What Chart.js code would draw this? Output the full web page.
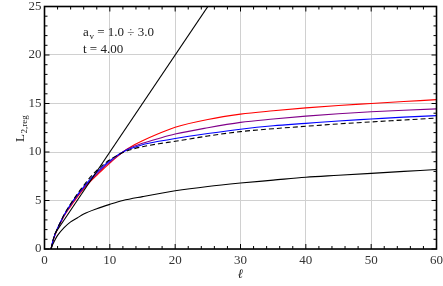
<!DOCTYPE html>
<html>
<head>
<meta charset="utf-8">
<script src="https://cdn.jsdelivr.net/npm/chart.js@4.4.1/dist/chart.umd.min.js"></script>
<style>
  body { margin: 0; background: #fff; }
  canvas { display: block; }
</style>
</head>
<body>
<canvas id="chart" width="443" height="286"></canvas>
<script>
// sample positions along the horizontal axis (ℓ)
const ell = [1, 1.3, 1.6, 2, 2.5, 3, 4, 5, 6, 7, 8, 9, 10, 11, 12, 13, 15, 17.5, 20, 25, 30, 35, 40, 45, 50, 55, 60];

// a_v = 1.0, 2.0, 3.0 curves
const blueVals   = [0, 0.9, 1.5, 2.15, 2.85, 3.5, 4.6, 5.55, 6.4, 7.2, 7.9, 8.55, 9.1, 9.6, 10.0, 10.3, 10.75, 11.1, 11.4, 11.9, 12.35, 12.7, 12.95, 13.2, 13.4, 13.6, 13.75];
const purpleVals = [0, 0.85, 1.45, 2.1, 2.8, 3.45, 4.5, 5.45, 6.3, 7.05, 7.75, 8.4, 8.95, 9.5, 10.0, 10.4, 10.9, 11.4, 11.85, 12.5, 13.05, 13.4, 13.7, 13.95, 14.15, 14.3, 14.45];
const redVals    = [0, 0.8, 1.4, 2.05, 2.75, 3.4, 4.4, 5.35, 6.2, 6.95, 7.6, 8.25, 8.85, 9.45, 10.0, 10.45, 11.15, 11.9, 12.55, 13.35, 13.9, 14.25, 14.55, 14.8, 15.0, 15.2, 15.4];
const dashedVals = [0, 0.9, 1.5, 2.15, 2.85, 3.55, 4.65, 5.65, 6.55, 7.4, 8.1, 8.7, 9.2, 9.6, 9.95, 10.2, 10.55, 10.85, 11.1, 11.65, 12.1, 12.4, 12.65, 12.9, 13.1, 13.3, 13.5];

// lower black curve
const lowEll  = [1, 1.25, 1.5, 2, 3, 4, 5, 6, 8, 10, 12, 15, 20, 25, 30, 35, 40, 45, 50, 55, 60];
const lowVals = [0, 0.45, 0.8, 1.4, 2.2, 2.8, 3.2, 3.6, 4.15, 4.6, 5.0, 5.4, 6.0, 6.45, 6.8, 7.1, 7.4, 7.6, 7.8, 8.0, 8.2];

// straight black line
const lineEll  = [1.5, 25.5];
const lineVals = [1.5, 25.5];

const xTicks = [0, 10, 20, 30, 40, 50, 60];
const yTicks = [0, 5, 10, 15, 20, 25];

const pts = (xs, ys) => xs.map((x, i) => ({ x: x, y: ys[i] }));

const serif = "'Liberation Serif', 'Times New Roman', serif";

const framePlugin = {
    id: 'frame',
    afterDraw(chart) {
        const ctx = chart.ctx;
        const xs = chart.scales.x, ys = chart.scales.y;
        const a = chart.chartArea;
        ctx.save();
        ctx.strokeStyle = '#000';
        ctx.lineWidth = 1;
        // minor + major ticks, inward on all four sides
        for (let v = 0; v <= 60; v += 2) {
            const px = xs.getPixelForValue(v);
            const len = v % 10 === 0 ? 5 : 3;
            ctx.beginPath();
            ctx.moveTo(px, a.bottom); ctx.lineTo(px, a.bottom - len);
            ctx.moveTo(px, a.top); ctx.lineTo(px, a.top + len);
            ctx.stroke();
        }
        for (let v = 0; v <= 25; v += 1) {
            const py = ys.getPixelForValue(v);
            const len = v % 5 === 0 ? 5 : 3;
            ctx.beginPath();
            ctx.moveTo(a.left, py); ctx.lineTo(a.left + len, py);
            ctx.moveTo(a.right, py); ctx.lineTo(a.right - len, py);
            ctx.stroke();
        }
        ctx.lineWidth = 1.6;
        ctx.strokeRect(a.left, a.top, a.right - a.left, a.bottom - a.top);

        // axis titles
        ctx.fillStyle = '#222';
        ctx.font = 'italic 13px ' + serif;
        ctx.textAlign = 'center';
        ctx.textBaseline = 'middle';
        ctx.fillText('ℓ', (a.left + a.right) / 2, 275);

        ctx.save();
        ctx.translate(20, 128);
        ctx.rotate(-Math.PI / 2);
        ctx.textAlign = 'left';
        ctx.textBaseline = 'alphabetic';
        ctx.font = '13px ' + serif;
        ctx.fillText('L', -14, 4);
        ctx.font = '9px ' + serif;
        ctx.fillText('2,reg', -5.5, 7);
        ctx.restore();

        // annotation
        ctx.textAlign = 'left';
        ctx.textBaseline = 'alphabetic';
        ctx.font = '13px ' + serif;
        ctx.fillText('a', 83, 36);
        ctx.font = '9px ' + serif;
        ctx.fillText('v', 89.5, 39);
        ctx.font = '13px ' + serif;
        ctx.fillText(' = 1.0 ÷ 3.0', 94, 36);
        ctx.fillText('t = 4.00', 83, 53);
        ctx.restore();
    }
};

new Chart(document.getElementById('chart'), {
    type: 'scatter',
    data: {
        datasets: [
            { data: pts(lineEll, lineVals), borderColor: '#000' },
            { data: pts(lowEll, lowVals), borderColor: '#000' },
            { data: pts(ell, dashedVals), borderColor: '#000', borderDash: [5, 3] },
            { data: pts(ell, blueVals), borderColor: '#0000ff' },
            { data: pts(ell, purpleVals), borderColor: '#80008a' },
            { data: pts(ell, redVals), borderColor: '#ff0000' }
        ].map(d => Object.assign({
            showLine: true,
            pointRadius: 0,
            borderWidth: 1.1,
            cubicInterpolationMode: 'monotone',
            fill: false
        }, d))
    },
    options: {
        responsive: false,
        animation: false,
        layout: { padding: { top: 6.5, right: 6.5, left: 0, bottom: 0 } },
        plugins: { legend: { display: false }, tooltip: { enabled: false } },
        scales: {
            x: {
                type: 'linear',
                min: 0, max: 60,
                afterBuildTicks: s => { s.ticks = xTicks.map(v => ({ value: v })); },
                afterFit: s => { s.height = 37; s.paddingLeft = 0; s.paddingRight = 0; },
                border: { display: false },
                grid: { color: '#d0d0d0', lineWidth: 1, drawTicks: false },
                ticks: { padding: 4, color: '#333', font: { family: serif, size: 13 } }
            },
            y: {
                min: 0, max: 25,
                afterBuildTicks: s => { s.ticks = yTicks.map(v => ({ value: v })); },
                afterFit: s => { s.width = 44.5; s.paddingTop = 0; s.paddingBottom = 0; },
                border: { display: false },
                grid: { color: '#d0d0d0', lineWidth: 1, drawTicks: false },
                ticks: { padding: 3, color: '#333', font: { family: serif, size: 13 } }
            }
        }
    },
    plugins: [framePlugin]
});
</script>
</body>
</html>
